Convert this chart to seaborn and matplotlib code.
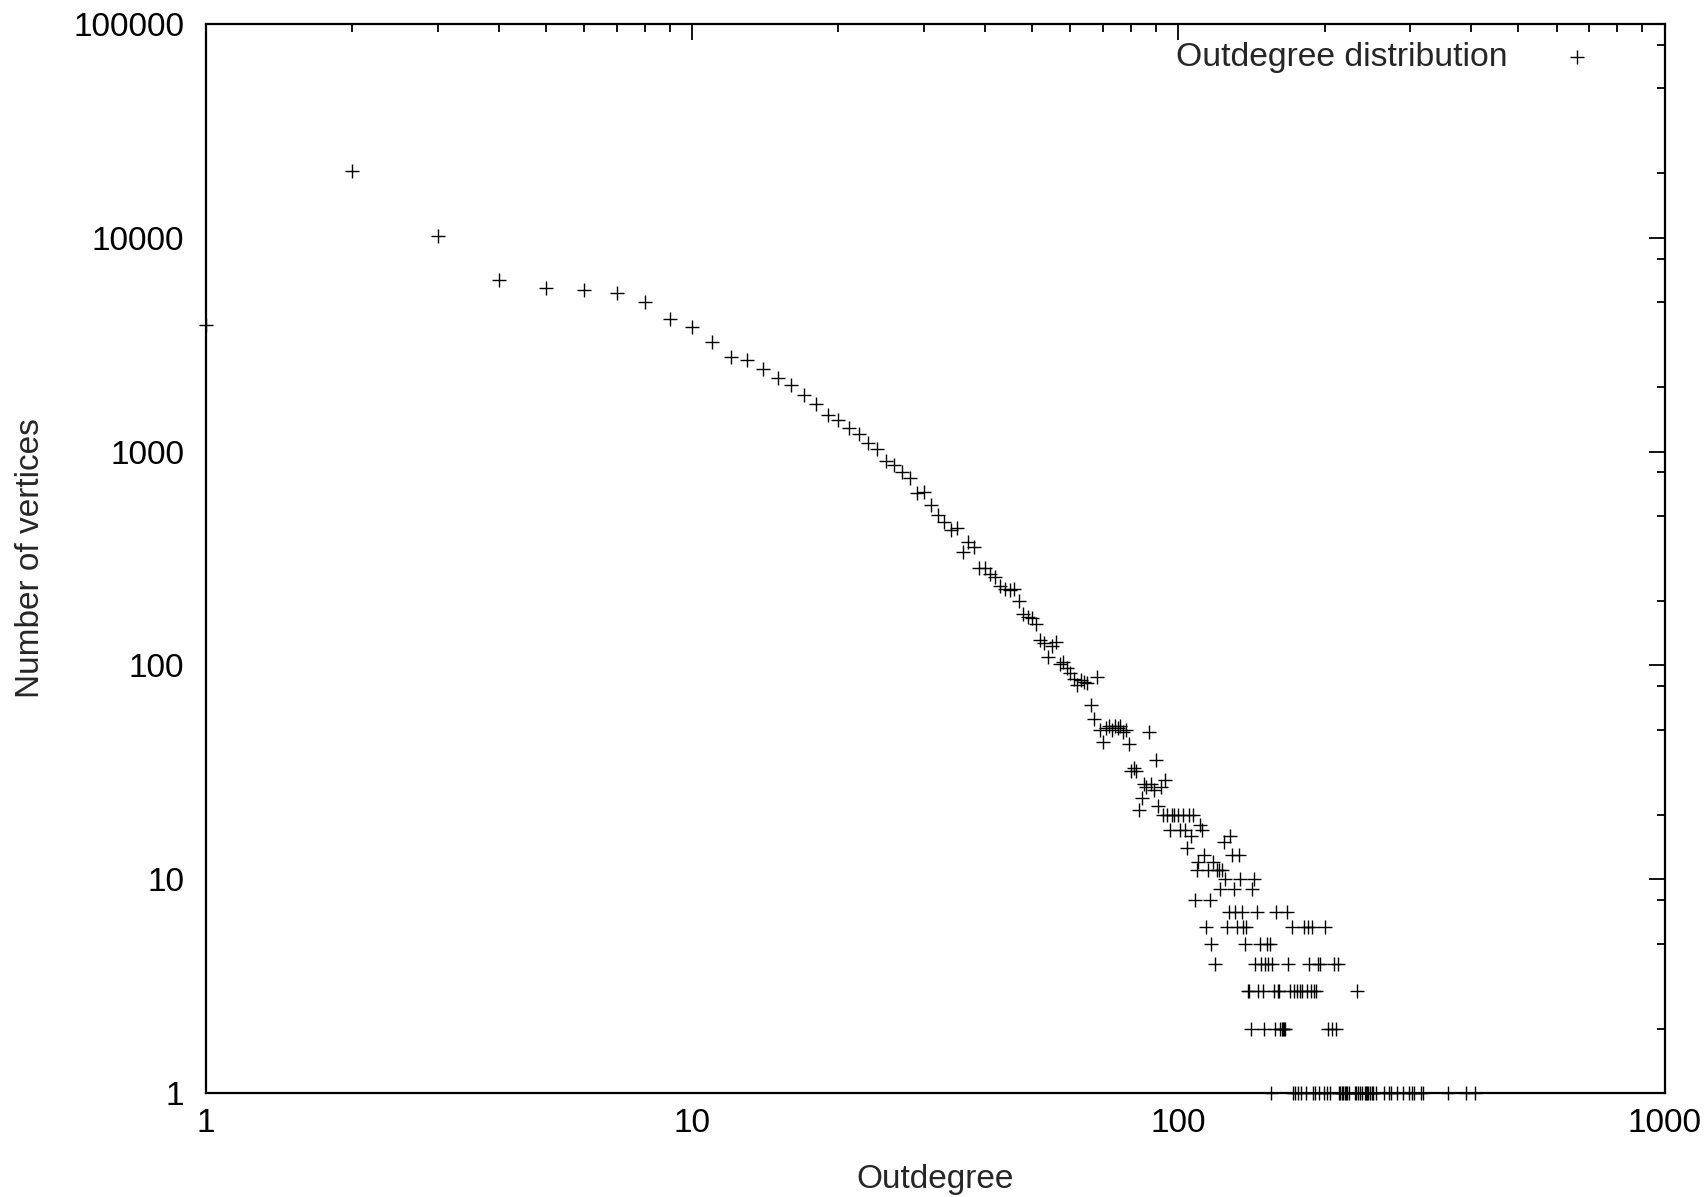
import matplotlib
matplotlib.use("Agg")
import matplotlib.pyplot as plt
from matplotlib.ticker import LogLocator, NullFormatter
import seaborn as sns
import pandas as pd

# outdegree -> number of vertices
degree = [
    1, 2, 3, 4, 5, 6, 7, 8, 9, 10,
    11, 12, 13, 14, 15, 16, 17, 18, 19, 20,
    21, 22, 23, 24, 25, 26, 27, 28, 29, 30,
    31, 32, 33, 34, 35, 36, 37, 38, 39, 40,
    41, 42, 43, 44, 45, 46, 47, 48, 49, 50,
    51, 52, 53, 54, 55, 56, 57, 58, 59, 60,
    61, 62, 63, 64, 65, 66, 67, 68, 69, 70,
    71, 72, 73, 74, 75, 76, 77, 78, 79, 80,
    81, 82, 83, 84, 85, 86, 87, 88, 89, 90,
    91, 92, 93, 94, 95, 96, 97, 98, 100, 101,
    102, 103, 104, 105, 106, 107, 108, 109, 110, 111,
    112, 113, 114, 115, 116, 117, 118, 119, 120, 121,
    122, 123, 124, 125, 126, 127, 128, 129, 130, 131,
    132, 133, 134, 135, 136, 137, 138, 139, 140, 141,
    142, 143, 144, 145, 146, 147, 148, 149, 150, 151,
    152, 153, 154, 155, 156, 157, 158, 159, 160, 161,
    162, 163, 164, 165, 166, 167, 168, 170, 171, 172,
    173, 174, 175, 176, 178, 179, 180, 181, 183, 184,
    185, 186, 187, 188, 189, 190, 191, 192, 194, 195,
    196, 199, 200, 202, 203, 205, 207, 209, 211, 213,
    214, 215, 217, 218, 220, 221, 222, 224, 231, 232,
    233, 234, 236, 239, 242, 243, 244, 246, 248, 250,
    251, 255, 265, 271, 274, 281, 290, 298, 302, 305,
    316, 319, 359, 391, 407,
]
vertices = [
    3900, 20500, 10150, 6350, 5800, 5720, 5520, 5030, 4170, 3840,
    3260, 2780, 2690, 2430, 2200, 2050, 1830, 1670, 1485, 1405,
    1295, 1212, 1095, 1030, 900, 868, 803, 752, 643, 648,
    564, 505, 470, 430, 438, 340, 379, 358, 286, 284,
    267, 258, 234, 228, 225, 227, 199, 174, 169, 166,
    157, 132, 127, 110, 123, 128, 102, 104, 97, 92,
    86, 81, 85, 84, 83, 65, 56, 88, 50, 44,
    51, 52, 50, 52, 51, 52, 49, 50, 43, 32,
    33, 32, 21, 24, 28, 27, 49, 28, 26, 36,
    22, 27, 20, 29, 20, 17, 20, 20, 20, 17,
    20, 17, 14, 20, 16, 20, 8, 11, 12, 18,
    17, 13, 6, 11, 8, 5, 12, 4, 11, 11,
    9, 11, 15, 10, 6, 7, 16, 13, 9, 7,
    6, 13, 10, 7, 6, 5, 6, 3, 3, 2,
    9, 10, 4, 7, 3, 5, 4, 3, 2, 4,
    5, 4, 5, 1, 4, 3, 2, 7, 3, 3,
    2, 2, 2, 2, 2, 7, 4, 3, 6, 1,
    3, 1, 3, 1, 3, 1, 3, 6, 1, 3,
    6, 4, 3, 6, 1, 3, 1, 3, 4, 1,
    4, 1, 6, 1, 2, 1, 2, 4, 2, 4,
    1, 1, 1, 1, 1, 1, 1, 1, 1, 1,
    3, 1, 1, 1, 1, 1, 1, 1, 1, 1,
    1, 1, 1, 1, 1, 1, 1, 1, 1, 1,
    1, 1, 1, 1, 1,
]

x_ticks = [1, 10, 100, 1000]
y_ticks = [1, 10, 100, 1000, 10000, 100000]

sns.set_style("white")
plt.rcParams["font.family"] = ["Liberation Sans", "DejaVu Sans"]

df = pd.DataFrame({"Outdegree": degree, "Number of vertices": vertices})

fig = plt.figure(figsize=(17.07, 11.97), dpi=100)
ax = fig.add_axes([0.12056, 0.08689, 0.85460, 0.89307])

sns.scatterplot(data=df, x="Outdegree", y="Number of vertices", marker="+",
                s=95, color="black", linewidth=1.0, clip_on=False, zorder=3,
                label="Outdegree distribution", ax=ax)

ax.set_xscale("log")
ax.set_yscale("log")
ax.set_xlim(1, 1000)
ax.set_ylim(1, 100000)

ax.set_xticks(x_ticks)
ax.set_xticklabels([str(t) for t in x_ticks])
ax.set_yticks(y_ticks)
ax.set_yticklabels([str(t) for t in y_ticks])
ax.xaxis.set_minor_locator(LogLocator(base=10, subs=range(2, 10)))
ax.yaxis.set_minor_locator(LogLocator(base=10, subs=(2, 5, 8)))
ax.xaxis.set_minor_formatter(NullFormatter())
ax.yaxis.set_minor_formatter(NullFormatter())

for sp in ax.spines.values():
    sp.set_visible(True)
    sp.set_linewidth(1.6)
    sp.set_color("black")

ax.tick_params(which="both", direction="in", top=True, right=True,
               width=1.3, color="black", labelsize=24, labelcolor="black")
ax.tick_params(which="major", length=11.5)
ax.tick_params(which="minor", length=5.8)
ax.tick_params(axis="x", which="major", pad=11)
ax.tick_params(axis="y", which="major", pad=15.5)

ax.set_xlabel("Outdegree", fontsize=24)
ax.set_ylabel("Number of vertices", fontsize=24)
ax.xaxis.set_label_coords(0.5, -0.066)
ax.yaxis.set_label_coords(-0.1095, 0.5)

ax.legend(loc="upper right", bbox_to_anchor=(0.9628, 0.983), markerfirst=False,
          frameon=False, fontsize=24.3, handletextpad=1.05, borderpad=0,
          borderaxespad=0, handlelength=2)

fig.savefig("out.png", dpi=100)
